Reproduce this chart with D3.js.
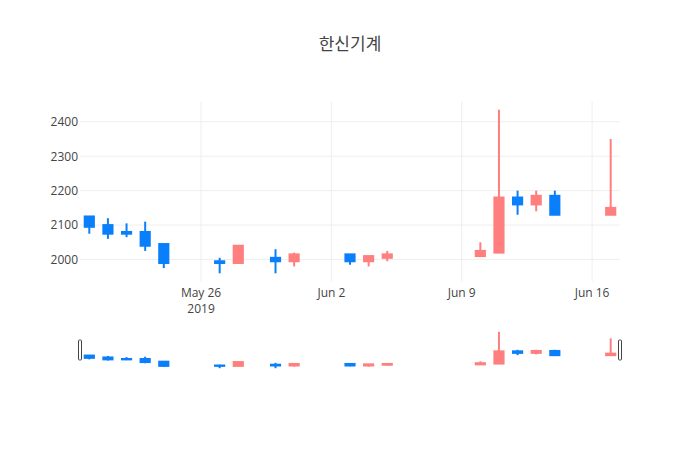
<!DOCTYPE html>
<html lang="ko">
<head>
    <meta charset="UTF-8">
    <title>한신기계</title>
    <style>
        body { margin: 0; background: #fff; }
        svg text { font-family: "Open Sans", "Noto Sans CJK KR", sans-serif; fill: #444; }
    </style>
</head>
<body>
    <div id="chart"></div>

    <script src="https://d3js.org/d3.v7.min.js"></script>

    <script>
        // daily prices
        var dates = ["2019-05-20", "2019-05-21", "2019-05-22", "2019-05-23", "2019-05-24",
                     "2019-05-27", "2019-05-28", "2019-05-30", "2019-05-31",
                     "2019-06-03", "2019-06-04", "2019-06-05",
                     "2019-06-10", "2019-06-11", "2019-06-12", "2019-06-13", "2019-06-14",
                     "2019-06-17"];
        var opens  = [2125, 2100, 2080, 2080, 2045, 1995, 1990, 2005, 1995, 2015, 1995, 2005, 2010, 2020, 2180, 2160, 2185, 2130];
        var highs  = [2125, 2120, 2105, 2110, 2045, 2005, 2040, 2030, 2020, 2015, 2010, 2025, 2050, 2435, 2200, 2200, 2200, 2350];
        var lows   = [2075, 2060, 2065, 2025, 1975, 1960, 1990, 1960, 1980, 1985, 1980, 1995, 2010, 2020, 2130, 2140, 2130, 2130];
        var closes = [2095, 2075, 2075, 2040, 1990, 1990, 2040, 1995, 2015, 1995, 2010, 2015, 2025, 2180, 2160, 2185, 2130, 2150];
        var yTicks = [2000, 2100, 2200, 2300, 2400];
        var title = "한신기계";

        var upColor = "#ff7f7f";
        var downColor = "#0a7ffb";

        var width = 700, height = 450;
        var plot = { left: 80, right: 620, top: 101.5, bottom: 281.5 };
        var slider = { top: 330, bottom: 370 };

        var parse = d3.timeParse("%Y-%m-%d");
        var data = dates.map(function(d, i) {
            return { date: parse(d), o: opens[i], h: highs[i], l: lows[i], c: closes[i] };
        });

        var svg = d3.select("#chart").append("svg")
            .attr("width", width)
            .attr("height", height);

        // x: half a day of padding on each side
        var halfDay = 12 * 3600 * 1000;
        var x = d3.scaleTime()
            .domain([new Date(data[0].date.getTime() - halfDay),
                     new Date(data[data.length - 1].date.getTime() + halfDay)])
            .range([plot.left, plot.right]);
        var dayWidth = x(d3.timeDay.offset(data[0].date, 1)) - x(data[0].date);

        // y: data extent plus 5% each side
        var yMin = d3.min(lows), yMax = d3.max(highs);
        var pad = (yMax - yMin) * 0.05;
        var y = d3.scaleLinear().domain([yMin - pad, yMax + pad]).range([plot.bottom, plot.top]);
        var ys = d3.scaleLinear().domain([yMin - pad, yMax + pad]).range([slider.bottom, slider.top]);

        // grid
        var xTicks = x.ticks(d3.timeWeek);
        svg.append("g").selectAll("line")
            .data(yTicks)
            .enter().append("line")
            .attr("x1", plot.left).attr("x2", plot.right)
            .attr("y1", function(d) { return y(d); })
            .attr("y2", function(d) { return y(d); })
            .attr("stroke", "#eee");
        svg.append("g").selectAll("line")
            .data(xTicks)
            .enter().append("line")
            .attr("x1", function(d) { return x(d); })
            .attr("x2", function(d) { return x(d); })
            .attr("y1", plot.top).attr("y2", plot.bottom)
            .attr("stroke", "#eee");

        // y axis labels
        var yAxis = d3.axisLeft(y).tickValues(yTicks).tickSize(0).tickPadding(2).tickFormat(d3.format("d"));
        svg.append("g")
            .attr("transform", "translate(" + plot.left + ",0)")
            .call(yAxis)
            .call(function(g) { g.select(".domain").remove(); })
            .selectAll("text")
            .attr("font-size", 12);

        // x axis labels, year under the first one
        var fmt = d3.timeFormat("%b %-d");
        svg.append("g").selectAll("text")
            .data(xTicks)
            .enter().append("text")
            .attr("x", function(d) { return x(d); })
            .attr("y", plot.bottom + 15)
            .attr("text-anchor", "middle")
            .attr("font-size", 12)
            .text(function(d) { return fmt(d); });
        svg.append("text")
            .attr("x", x(xTicks[0]))
            .attr("y", plot.bottom + 31)
            .attr("text-anchor", "middle")
            .attr("font-size", 12)
            .text(d3.timeFormat("%Y")(xTicks[0]));

        // candles
        function drawCandles(g, yScale) {
            var bw = dayWidth * 0.6 - 2;
            var c = g.selectAll("g.candle")
                .data(data)
                .enter().append("g")
                .attr("class", "candle");
            c.append("line")
                .attr("x1", function(d) { return x(d.date); })
                .attr("x2", function(d) { return x(d.date); })
                .attr("y1", function(d) { return yScale(d.h); })
                .attr("y2", function(d) { return yScale(d.l); })
                .attr("stroke", function(d) { return d.c >= d.o ? upColor : downColor; })
                .attr("stroke-width", 2);
            c.append("rect")
                .attr("x", function(d) { return x(d.date) - bw / 2; })
                .attr("width", bw)
                .attr("y", function(d) { return yScale(Math.max(d.o, d.c)); })
                .attr("height", function(d) { return Math.abs(yScale(d.o) - yScale(d.c)); })
                .attr("fill", function(d) { return d.c >= d.o ? upColor : downColor; })
                .attr("stroke", function(d) { return d.c >= d.o ? upColor : downColor; })
                .attr("stroke-width", 2);
        }
        drawCandles(svg.append("g"), y);

        // range slider
        var sl = svg.append("g");
        sl.append("rect")
            .attr("x", plot.left).attr("y", slider.top)
            .attr("width", plot.right - plot.left)
            .attr("height", slider.bottom - slider.top)
            .attr("fill", "#fff");
        drawCandles(sl.append("g"), ys);
        var mid = (slider.top + slider.bottom) / 2;
        sl.selectAll("rect.grab")
            .data(x.range())
            .enter().append("rect")
            .attr("class", "grab")
            .attr("x", function(d) { return d - 1.5; })
            .attr("y", mid - 10)
            .attr("width", 3)
            .attr("height", 20)
            .attr("rx", 1)
            .attr("fill", "#fff")
            .attr("stroke", "#444")
            .attr("stroke-width", 1);

        // title
        svg.append("text")
            .attr("x", width / 2)
            .attr("y", 50)
            .attr("text-anchor", "middle")
            .attr("font-size", 17)
            .text(title);
    </script>
</body>
</html>
